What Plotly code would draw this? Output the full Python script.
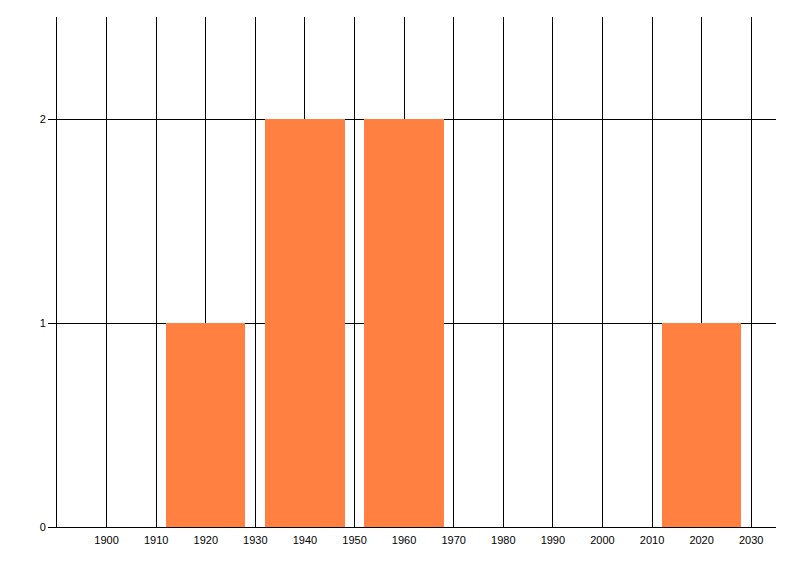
import plotly.graph_objects as go

decades = [1920, 1940, 1960, 2020]
counts = [1, 2, 2, 1]
x_ticks = list(range(1900, 2031, 10))
x_tick_labels = [str(v) for v in x_ticks]
y_ticks = [0, 1, 2]

fig = go.Figure()
fig.add_trace(go.Bar(
    x=decades, y=counts, width=16,
    marker=dict(color="#FF8040", line=dict(width=0)),
    hoverinfo="x+y",
))

fig.update_layout(
    width=784, height=560,
    margin=dict(l=49, r=16, t=9, b=41),
    paper_bgcolor="white", plot_bgcolor="white",
    showlegend=False,
    font=dict(family="Liberation Sans, Arial, sans-serif", size=11, color="#000000"),
    bargap=0,
)
fig.update_xaxes(
    range=[1890, 2035],
    tickmode="array", tickvals=x_ticks, ticktext=x_tick_labels,
    showgrid=True, gridcolor="black", gridwidth=1,
    showline=True, linecolor="black", linewidth=1,
    ticks="outside", ticklen=3, tickcolor="rgba(0,0,0,0)",
    zeroline=False,
    fixedrange=True,
)
fig.update_yaxes(
    range=[0, 2.5],
    tickmode="array", tickvals=y_ticks,
    showgrid=True, gridcolor="black", gridwidth=1,
    showline=True, linecolor="black", linewidth=1,
    ticks="outside", ticklen=8, tickcolor="black", tickwidth=1,
    zeroline=False,
    fixedrange=True,
)

fig.write_html("out.html")
